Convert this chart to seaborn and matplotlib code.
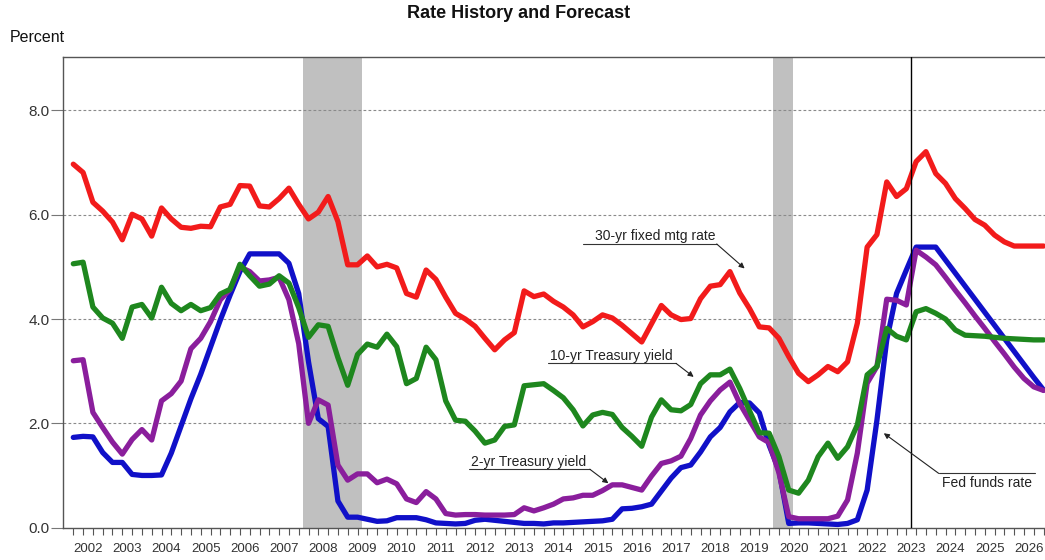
import numpy as np
import pandas as pd
import matplotlib
matplotlib.use("Agg")
import matplotlib.pyplot as plt
import seaborn as sns

# Settings
sns.set_theme(style="white")
plt.rcParams['font.family'] = ['Liberation Sans', 'DejaVu Sans']

# ── Data (quarterly, 2002Q1 - 2026Q4) ─────────────
years = list(range(2002, 2027))
quarters = [f"{y}Q{q}" for y in years for q in range(1, 5)]

mtg_30yr = [6.97, 6.81, 6.24, 6.07, 5.86, 5.52, 6.01, 5.92, 5.59, 6.13,
            5.92, 5.76, 5.74, 5.78, 5.77, 6.15, 6.20, 6.56, 6.55, 6.17,
            6.15, 6.31, 6.51, 6.20, 5.92, 6.05, 6.35, 5.87, 5.04, 5.04,
            5.21, 5.00, 5.05, 4.98, 4.49, 4.42, 4.94, 4.76, 4.42, 4.11,
            4.00, 3.86, 3.63, 3.41, 3.60, 3.74, 4.54, 4.43, 4.48, 4.34,
            4.23, 4.08, 3.85, 3.95, 4.08, 4.02, 3.88, 3.72, 3.56, 3.91,
            4.26, 4.08, 3.99, 4.01, 4.39, 4.63, 4.66, 4.91, 4.50, 4.20,
            3.85, 3.83, 3.63, 3.28, 2.96, 2.80, 2.93, 3.09, 2.99, 3.18,
            3.92, 5.38, 5.62, 6.63, 6.35, 6.50, 7.02, 7.21, 6.79, 6.60,
            6.31, 6.12, 5.91, 5.80, 5.61, 5.48, 5.40, 5.40, 5.40, 5.40]

treasury_10yr = [5.06, 5.09, 4.23, 4.02, 3.92, 3.63, 4.23, 4.28, 4.02, 4.61,
                 4.30, 4.16, 4.28, 4.16, 4.22, 4.48, 4.57, 5.05, 4.83, 4.63,
                 4.67, 4.83, 4.69, 4.22, 3.65, 3.89, 3.86, 3.26, 2.73, 3.32,
                 3.52, 3.46, 3.71, 3.47, 2.76, 2.86, 3.46, 3.22, 2.43, 2.06,
                 2.04, 1.85, 1.62, 1.68, 1.94, 1.97, 2.72, 2.74, 2.76, 2.63,
                 2.49, 2.26, 1.95, 2.16, 2.21, 2.17, 1.92, 1.75, 1.56, 2.12,
                 2.45, 2.26, 2.24, 2.36, 2.76, 2.93, 2.93, 3.04, 2.67, 2.24,
                 1.82, 1.81, 1.36, 0.72, 0.66, 0.91, 1.36, 1.62, 1.33, 1.55,
                 1.97, 2.93, 3.09, 3.82, 3.67, 3.60, 4.14, 4.20, 4.11, 4.00,
                 3.79, 3.69, 3.68, 3.67, 3.65, 3.63, 3.62, 3.61, 3.60, 3.60]

fed_funds = [1.73, 1.75, 1.74, 1.44, 1.25, 1.25, 1.02, 1.00, 1.00, 1.01,
             1.43, 1.95, 2.47, 2.94, 3.46, 3.98, 4.46, 4.91, 5.25, 5.25,
             5.25, 5.25, 5.07, 4.49, 3.18, 2.09, 1.94, 0.51, 0.20, 0.20,
             0.16, 0.12, 0.13, 0.19, 0.19, 0.19, 0.15, 0.09, 0.08, 0.07,
             0.08, 0.14, 0.16, 0.14, 0.12, 0.10, 0.08, 0.08, 0.07, 0.09,
             0.09, 0.10, 0.11, 0.12, 0.13, 0.16, 0.36, 0.37, 0.40, 0.45,
             0.70, 0.95, 1.15, 1.20, 1.45, 1.74, 1.92, 2.22, 2.40, 2.39,
             2.20, 1.58, 1.10, 0.08, 0.09, 0.09, 0.08, 0.07, 0.06, 0.08,
             0.15, 0.72, 2.06, 3.60, 4.49, 4.94, 5.38, 5.38, 5.38, 5.13,
             4.88, 4.63, 4.38, 4.13, 3.88, 3.63, 3.38, 3.13, 2.88, 2.64]

treasury_2yr = [3.20, 3.22, 2.21, 1.92, 1.64, 1.41, 1.69, 1.88, 1.68, 2.43,
                2.57, 2.81, 3.43, 3.63, 3.95, 4.37, 4.57, 5.00, 4.91, 4.73,
                4.75, 4.80, 4.37, 3.53, 2.00, 2.45, 2.35, 1.20, 0.91, 1.03,
                1.03, 0.86, 0.93, 0.84, 0.55, 0.48, 0.69, 0.55, 0.27, 0.24,
                0.25, 0.25, 0.24, 0.24, 0.24, 0.25, 0.38, 0.32, 0.38, 0.45,
                0.55, 0.57, 0.62, 0.62, 0.71, 0.82, 0.82, 0.77, 0.72, 0.99,
                1.23, 1.28, 1.37, 1.71, 2.16, 2.43, 2.64, 2.79, 2.38, 2.06,
                1.74, 1.63, 1.05, 0.21, 0.17, 0.17, 0.17, 0.17, 0.22, 0.53,
                1.43, 2.77, 3.09, 4.38, 4.36, 4.27, 5.32, 5.19, 5.04, 4.80,
                4.55, 4.31, 4.06, 3.82, 3.57, 3.33, 3.08, 2.86, 2.70, 2.63]

series_order = ['Fed funds rate', '2-yr Treasury yield', '10-yr Treasury yield', '30-yr fixed mtg rate']
colors = {'Fed funds rate': '#1010C8', '2-yr Treasury yield': '#8A1E9C',
          '10-yr Treasury yield': '#1E871E', '30-yr fixed mtg rate': '#F21B1B'}

x = np.arange(len(quarters))
df = pd.concat([
    pd.DataFrame({'q': x, 'rate': fed_funds, 'series': 'Fed funds rate'}),
    pd.DataFrame({'q': x, 'rate': treasury_2yr, 'series': '2-yr Treasury yield'}),
    pd.DataFrame({'q': x, 'rate': treasury_10yr, 'series': '10-yr Treasury yield'}),
    pd.DataFrame({'q': x, 'rate': mtg_30yr, 'series': '30-yr fixed mtg rate'}),
])

# recessions in quarter units, forecast start
recessions = [(23.4, 29.45), (71.35, 73.4)]
forecast_start = 85.45

# ── Figure ────────────────────────────────────────
fig = plt.figure(figsize=(10.45, 5.6), dpi=100)
ax = fig.add_axes([63.3 / 1045, 32.4 / 560, (1046 - 63.3) / 1045, 470.3 / 560])

for a, b in recessions:
    ax.axvspan(a, b, color='#c0c0c0', lw=0, zorder=0)

for yv in [2, 4, 6, 8]:
    ax.axhline(yv, color='#8a8a8a', lw=0.8, ls=(0, (2.5, 2)), zorder=1)

sns.lineplot(data=df, x='q', y='rate', hue='series', hue_order=series_order,
             palette=colors, linewidth=3.8, legend=False, ax=ax, zorder=3)

ax.axvline(forecast_start, color='black', lw=1, zorder=4)

ax.set_xlim(-1.02, 99.25)
ax.set_ylim(0, 9.02)
ax.set_xlabel('')
ax.set_ylabel('')

# y axis
ax.set_yticks([0, 2, 4, 6, 8])
ax.set_yticklabels([f"{v:.1f}" for v in [0, 2, 4, 6, 8]])
ax.tick_params(axis='y', which='major', left=True, length=8.4, width=0.8,
               color='#777777', pad=1.5, labelsize=11, labelcolor='#333333')

# x axis: quarter ticks, year labels in the middle
ax.set_xticks(x)
ax.set_xticklabels([])
ax.set_xticks([4 * k + 1.5 for k in range(len(years))], minor=True)
ax.set_xticklabels([str(y) for y in years], minor=True)
ax.tick_params(axis='x', which='major', bottom=True, length=5, width=0.8,
               color='#555555', direction='out')
ax.tick_params(axis='x', which='minor', bottom=True, length=0, pad=11,
               labelsize=9.5, labelcolor='#333333')

for side in ['left', 'top', 'bottom']:
    ax.spines[side].set_color('#555555')
    ax.spines[side].set_linewidth(1)
ax.spines['right'].set_visible(False)

# ── Annotations ───────────────────────────────────
labels = [
    ('30-yr fixed mtg rate', 53.2, 5.60, (52.0, 65.65, 5.44), (68.5, 4.97)),
    ('10-yr Treasury yield', 48.6, 3.29, (48.4, 61.5, 3.15), (63.3, 2.89)),
    ('2-yr Treasury yield', 40.6, 1.26, (40.4, 52.7, 1.12), (54.6, 0.85)),
]
for text, tx, ty, (u0, u1, uy), tip in labels:
    ax.text(tx, ty, text, ha='left', va='center', fontsize=10, color='#222222', zorder=5)
    ax.plot([u0, u1], [uy, uy], color='#333333', lw=0.8, zorder=5)
    ax.annotate('', xy=tip, xytext=(u1, uy),
                arrowprops=dict(arrowstyle='-|>', color='#222222', lw=0.8,
                                mutation_scale=8, shrinkA=0, shrinkB=0), zorder=5)

# Fed funds label sits under its leader line
ax.text(93.2, 0.85, 'Fed funds rate', ha='center', va='center', fontsize=10, color='#222222', zorder=5)
ax.plot([88.3, 98.1], [1.04, 1.04], color='#333333', lw=0.8, zorder=5)
ax.annotate('', xy=(82.7, 1.81), xytext=(88.3, 1.04),
            arrowprops=dict(arrowstyle='-|>', color='#222222', lw=0.8,
                            mutation_scale=8, shrinkA=0, shrinkB=0), zorder=5)

fig.text(519 / 1045, 1 - 13.5 / 560, 'Rate History and Forecast', ha='center', va='center',
         fontsize=13, fontweight='bold', color='#111111')
fig.text(10 / 1045, 1 - 37.5 / 560, 'Percent', ha='left', va='center',
         fontsize=11.5, color='#111111')

fig.savefig('out.png', dpi=100)
plt.close(fig)
